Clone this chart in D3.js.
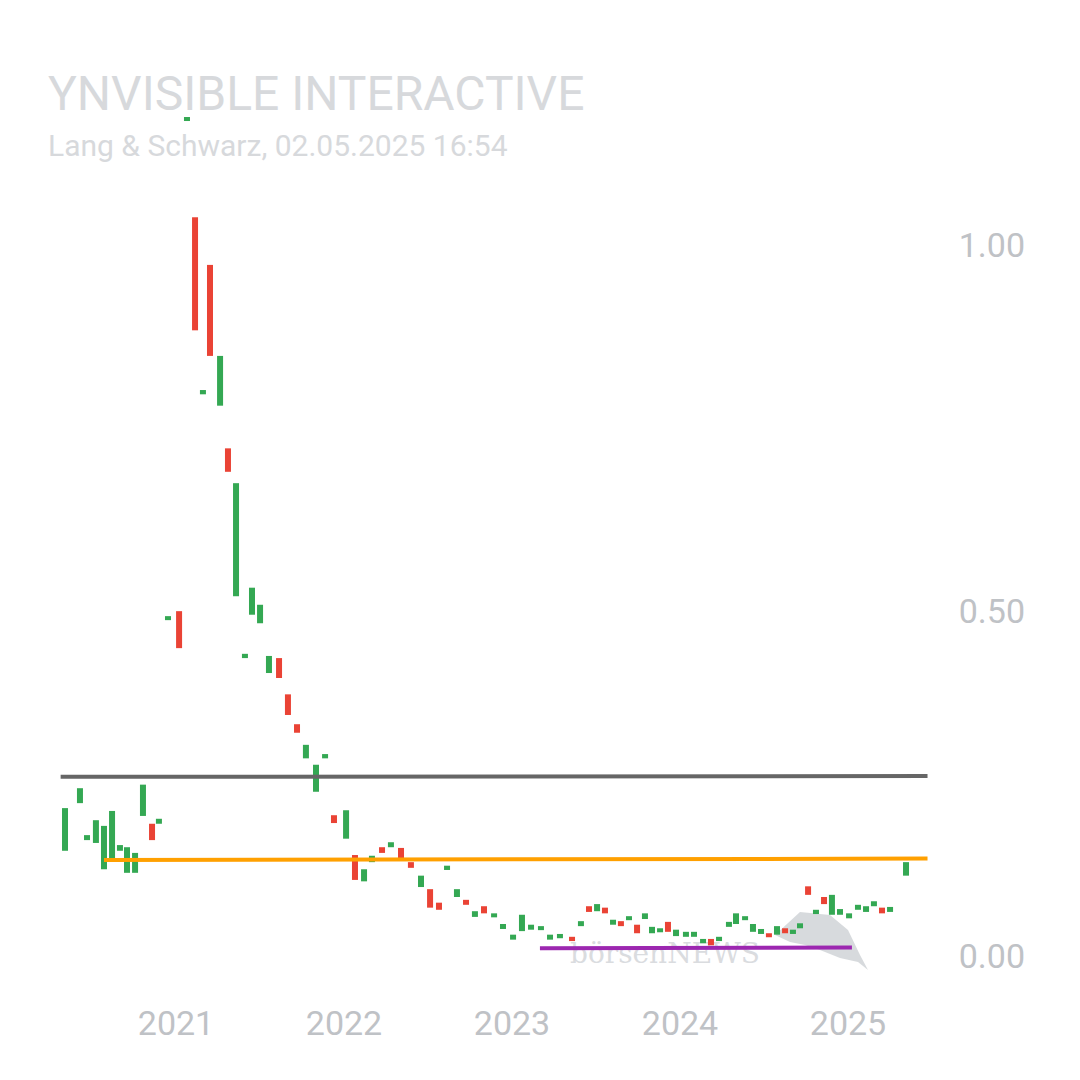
<!DOCTYPE html>
<html><head><meta charset="utf-8">
<script src="https://cdn.jsdelivr.net/npm/d3@7"></script>
<style>body{margin:0;background:#fff}svg{font-family:Roboto,"Noto Sans",sans-serif}</style>
</head><body><svg id="c" width="1080" height="1080"></svg>
<script>
// time as decimal year, open, close
const times = [2020.256,2020.345,2020.387,2020.440,2020.488,2020.536,2020.583,2020.625,2020.673,2020.720,2020.774,2020.815,2020.869,2020.935,2020.982,2021.030,2021.077,2021.119,2021.179,2021.226,2021.274,2021.327,2021.369,2021.417,2021.470,2021.530,2021.583,2021.637,2021.690,2021.750,2021.804,2021.857,2021.929,2021.982,2022.036,2022.083,2022.143,2022.196,2022.256,2022.315,2022.375,2022.429,2022.482,2022.530,2022.589,2022.643,2022.696,2022.750,2022.810,2022.863,2022.923,2022.976,2023.030,2023.089,2023.143,2023.202,2023.274,2023.327,2023.375,2023.423,2023.470,2023.518,2023.565,2023.613,2023.661,2023.708,2023.750,2023.798,2023.845,2023.893,2023.952,2024.000,2024.054,2024.101,2024.149,2024.208,2024.250,2024.304,2024.351,2024.399,2024.446,2024.494,2024.542,2024.589,2024.631,2024.679,2024.726,2024.774,2024.821,2024.869,2024.923,2024.976,2025.024,2025.071,2025.119,2025.167,2025.262];
const opens = [.148,.215,.163,.159,.122,.135,.148,.117,.117,.197,.186,.186,.473,.485,1.176,1.039,.790,.972,.774,.714,.506,.419,.480,.468,.398,.419,.368,.326,.278,.231,.278,.198,.165,.142,.105,.132,.153,.153,.152,.132,.097,.094,.075,.121,.083,.079,.055,.070,.055,.038,.023,.035,.037,.037,.023,.025,.027,.042,.070,.063,.068,.044,.049,.051,.044,.052,.032,.034,.048,.028,.027,.027,.018,.024,.021,.041,.045,.051,.034,.031,.032,.030,.039,.031,.039,.098,.059,.083,.058,.058,.053,.065,.062,.070,.068,.062,.113];
const closes = [.208,.236,.170,.191,.183,.204,.156,.153,.145,.241,.163,.193,.478,.433,1.180,.880,.796,.844,.844,.681,.665,.425,.518,.494,.422,.391,.339,.314,.297,.269,.284,.187,.205,.107,.122,.141,.145,.160,.135,.124,.113,.068,.065,.127,.094,.072,.063,.060,.060,.045,.030,.058,.044,.042,.030,.031,.021,.049,.062,.073,.060,.051,.042,.056,.032,.060,.041,.039,.034,.037,.034,.034,.024,.015,.027,.048,.060,.056,.045,.038,.027,.042,.032,.037,.046,.086,.065,.073,.086,.066,.060,.072,.070,.077,.060,.069,.132];
const hLines = [
  {from: 2020.23, to: 2025.39, v0: .252, v1: .253, color: "#666666"},
  {from: 2020.488, to: 2025.39, v0: .135, v1: .137, color: "#ffa000"},
  {from: 2023.083, to: 2024.940, v0: .011, v1: .012, color: "#9c27b0"}
];
const yTicks = [0, 0.5, 1];
const xTicks = [2021, 2022, 2023, 2024, 2025];

const svg = d3.select("#c");
const x = d3.scaleLinear().domain([2021, 2025]).range([190, 862]);
const y = d3.scaleLinear().domain([0, 1]).range([956, 245]);

svg.append("text").attr("x", 48).attr("y", 110).attr("font-size", 48).attr("fill", "#d7d9dc").text("YNVISIBLE INTERACTIVE");
svg.append("text").attr("x", 48).attr("y", 156).attr("font-size", 30).attr("fill", "#d7d9dc").text("Lang & Schwarz, 02.05.2025 16:54");

// watermark
svg.append("path").attr("fill", "#d0d3d7").attr("opacity", .85)
  .attr("d", "M775,935 L800,912 L830,915 L848,930 L860,955 L868,970 L858,962 L840,958 L820,950 L805,945 L790,942 Z");
svg.append("text").attr("x", 570).attr("y", 963).attr("font-family", "DejaVu Serif, serif")
  .attr("font-size", 28).attr("fill", "#dadcdf").text("börsenNEWS");

svg.selectAll("text.yt").data(yTicks).join("text").attr("class", "yt")
  .attr("x", 1025).attr("y", d => d === 0.5 ? y(d) + 22 : y(d) + 12).attr("text-anchor", "end")
  .attr("font-size", 34).attr("fill", "#bfc2c6").text(d => d.toFixed(2));
svg.selectAll("text.xt").data(xTicks).join("text").attr("class", "xt")
  .attr("x", d => x(d) - 14).attr("y", 1035).attr("text-anchor", "middle")
  .attr("font-size", 34).attr("fill", "#bfc2c6").text(d => d);

const candles = times.map((t, i) => ({t, o: opens[i], c: closes[i]}));
svg.selectAll("rect.cd").data(candles).join("rect").attr("class", "cd")
  .attr("x", d => x(d.t) - 3).attr("width", 6)
  .attr("y", d => y(Math.max(d.o, d.c)))
  .attr("height", d => Math.max(4, Math.abs(y(d.o) - y(d.c))))
  .attr("fill", d => d.c >= d.o ? "#34a853" : "#ea4335");

svg.selectAll("line.hl").data(hLines).join("line").attr("class", "hl")
  .attr("x1", d => x(d.from)).attr("x2", d => x(d.to))
  .attr("y1", d => y(d.v0)).attr("y2", d => y(d.v1))
  .attr("stroke", d => d.color).attr("stroke-width", 4);
</script></body></html>
